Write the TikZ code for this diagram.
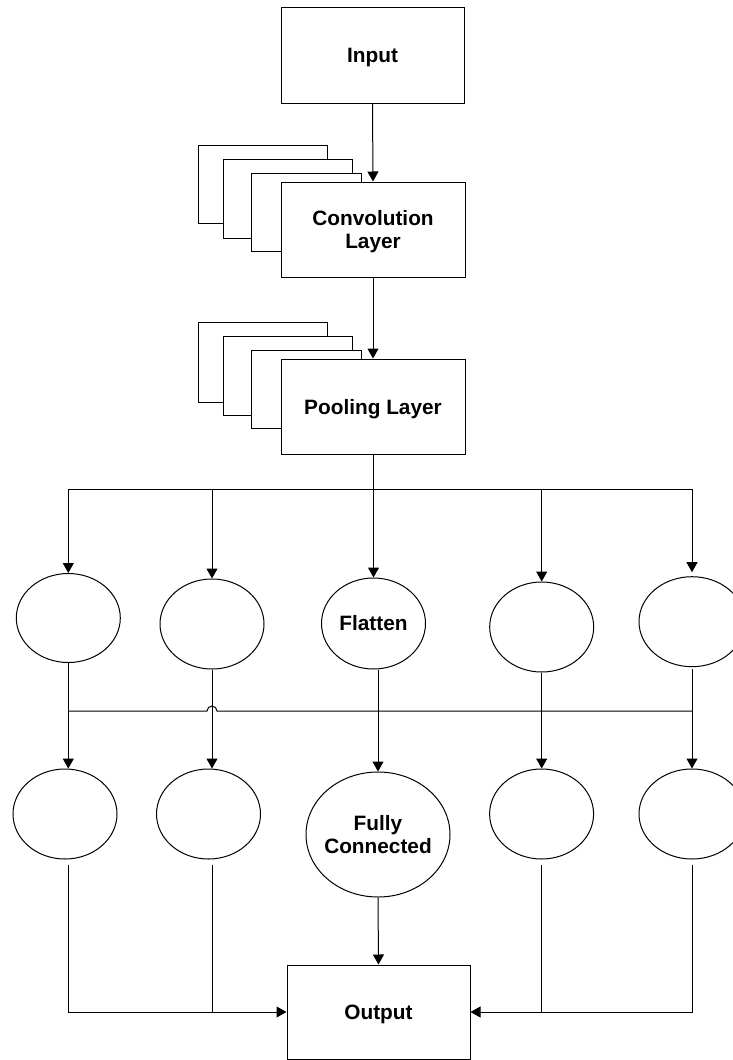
\documentclass[tikz,border=0pt]{standalone}
\usepackage{fontspec}
\setmainfont{Liberation Sans}
\usetikzlibrary{arrows.meta,shapes.geometric}
\begin{document}
\begin{tikzpicture}[
  x=1pt,y=1pt,
  line width=1pt,
  lbl/.style={font=\fontsize{20.8}{23}\selectfont\bfseries,align=center},
  box/.style={draw,rectangle,fill=white,inner sep=0pt,text depth=0pt,lbl},
  sheet/.style={draw,rectangle,fill=white,inner sep=0pt},
  el/.style={draw,ellipse,inner sep=0pt,minimum width=104pt,minimum height=90pt,lbl},
  arr/.style={-{Triangle[width=11pt,length=10pt]}},
]
\useasboundingbox (0,0) rectangle (733,-1060);
\clip (0,0) rectangle (733,-1060);

% Input
\node[box,minimum width=183pt,minimum height=96pt] (in) at (372.5,-55) {Input};

% Convolution stack
\node[sheet,minimum width=129pt,minimum height=78pt] (cA) at (262.5,-184) {};
\node[sheet,minimum width=129pt,minimum height=79pt] (cB) at (287.5,-198.5) {};
\node[sheet,minimum width=110pt,minimum height=78pt] (cC) at (306,-212) {};
\node[box,minimum width=184pt,minimum height=95pt] (conv) at (373,-229.5) {Convolution\\Layer};

% Pooling stack
\node[sheet,minimum width=129pt,minimum height=80pt] (pA) at (262.5,-362) {};
\node[sheet,minimum width=129pt,minimum height=79pt] (pB) at (287.5,-375.5) {};
\node[sheet,minimum width=110pt,minimum height=78pt] (pC) at (306,-389) {};
\node[box,minimum width=184pt,minimum height=95pt] (pool) at (373,-406.5) {Pooling Layer};

% Row 1 ellipses
\node[el,minimum height=89pt] (e1) at (68.3,-618) {};
\node[el] (e2) at (212,-624) {};
\node[el,minimum height=91pt] (flat) at (373.5,-623.5) {Flatten};
\node[el] (e4) at (541.7,-627) {};
\node[el,minimum width=106pt] (e5) at (692,-621.7) {};

% Row 2 ellipses
\node[el] (f1) at (65,-814) {};
\node[el] (f2) at (208.5,-814) {};
\node[draw,ellipse,inner sep=0pt,minimum width=144pt,minimum height=125pt,
      label={[lbl]center:Fully\\Connected}] (fc) at (378,-834.5) {};
\node[el] (f4) at (541.6,-814) {};
\node[el,minimum width=106pt] (f5) at (692,-814) {};

% Output
\node[box,minimum width=183pt,minimum height=94pt] (out) at (378.5,-1012) {Output};

% Connectors top
\draw[arr] (in.south) -- (conv.north);
\draw[arr] (conv.south) -- (pool.north);

\coordinate (br) at (373,-489);
\draw (pool.south) -- (br);
\draw[arr] (br) -| (e1.north);
\draw[arr] (br) -| (e2.north);
\draw[arr] (br) -| (flat.north);
\draw[arr] (br) -| (e4.north);
\draw[arr,shorten >=4pt] (br) -| (e5.north);

% Row 1 -> Row 2
\draw[arr] (e1.south) -- (e1.south |- f1.north);
\draw[arr] (e2.south) -- (e2.south |- f2.north);
\draw[arr] (fc |- flat.south) -- (fc.north);
\draw[arr] (e4.south) -- (e4.south |- f4.north);
\draw[arr,shorten <=2pt] (e5.south) -- (e5.south |- f5.north);

\coordinate (hl) at (0,-711);
\draw (e1 |- hl) -- ([xshift=-5pt]e2 |- hl) arc[start angle=180,end angle=0,radius=5pt] -- (e5 |- hl);

% Row 2 -> Output
\draw[arr,shorten <=5pt] (e1 |- f1.south) |- (out.west);
\draw[shorten <=5pt] (e2 |- f2.south) -- (e2 |- out.west);
\draw[arr] (fc.south) -- (out.north);
\draw[shorten <=5pt] (e4 |- f4.south) -- (e4 |- out.east);
\draw[arr,shorten <=5pt] (e5 |- f5.south) |- (out.east);
\end{tikzpicture}
\end{document}
